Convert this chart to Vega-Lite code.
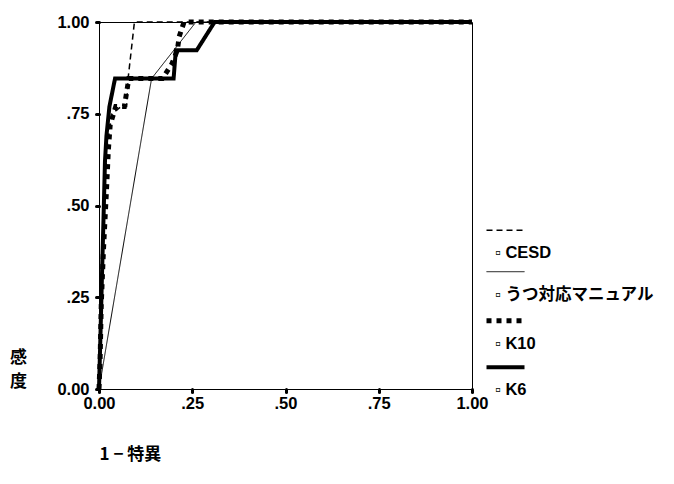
{
  "$schema": "https://vega.github.io/schema/vega-lite/v6.json",
  "autosize": {"type": "none"},
  "padding": {"left": 99, "top": 22, "right": 202, "bottom": 95},
  "width": 373,
  "height": 367,
  "background": "white",
  "data": {
    "values": [
      {"series": "CESD", "i": 0, "fpr": 0.0, "tpr": 0.0},
      {"series": "CESD", "i": 1, "fpr": 0.005, "tpr": 0.15},
      {"series": "CESD", "i": 2, "fpr": 0.01, "tpr": 0.38},
      {"series": "CESD", "i": 3, "fpr": 0.015, "tpr": 0.54},
      {"series": "CESD", "i": 4, "fpr": 0.02, "tpr": 0.65},
      {"series": "CESD", "i": 5, "fpr": 0.03, "tpr": 0.72},
      {"series": "CESD", "i": 6, "fpr": 0.035, "tpr": 0.75},
      {"series": "CESD", "i": 7, "fpr": 0.06, "tpr": 0.77},
      {"series": "CESD", "i": 8, "fpr": 0.074, "tpr": 0.77},
      {"series": "CESD", "i": 9, "fpr": 0.078, "tpr": 0.846},
      {"series": "CESD", "i": 10, "fpr": 0.095, "tpr": 1.0},
      {"series": "CESD", "i": 11, "fpr": 1.0, "tpr": 1.0},

      {"series": "うつ対応マニュアル", "i": 0, "fpr": 0.0, "tpr": 0.0},
      {"series": "うつ対応マニュアル", "i": 1, "fpr": 0.141, "tpr": 0.846},
      {"series": "うつ対応マニュアル", "i": 2, "fpr": 0.26, "tpr": 1.0},
      {"series": "うつ対応マニュアル", "i": 3, "fpr": 1.0, "tpr": 1.0},

      {"series": "K10", "i": 0, "fpr": 0.0, "tpr": 0.0},
      {"series": "K10", "i": 1, "fpr": 0.003, "tpr": 0.08},
      {"series": "K10", "i": 2, "fpr": 0.006, "tpr": 0.23},
      {"series": "K10", "i": 3, "fpr": 0.012, "tpr": 0.38},
      {"series": "K10", "i": 4, "fpr": 0.02, "tpr": 0.54},
      {"series": "K10", "i": 5, "fpr": 0.025, "tpr": 0.65},
      {"series": "K10", "i": 6, "fpr": 0.03, "tpr": 0.72},
      {"series": "K10", "i": 7, "fpr": 0.045, "tpr": 0.77},
      {"series": "K10", "i": 8, "fpr": 0.068, "tpr": 0.77},
      {"series": "K10", "i": 9, "fpr": 0.08, "tpr": 0.846},
      {"series": "K10", "i": 10, "fpr": 0.17, "tpr": 0.846},
      {"series": "K10", "i": 11, "fpr": 0.195, "tpr": 0.885},
      {"series": "K10", "i": 12, "fpr": 0.21, "tpr": 0.923},
      {"series": "K10", "i": 13, "fpr": 0.215, "tpr": 0.96},
      {"series": "K10", "i": 14, "fpr": 0.228, "tpr": 1.0},
      {"series": "K10", "i": 15, "fpr": 1.0, "tpr": 1.0},

      {"series": "K6", "i": 0, "fpr": 0.0, "tpr": 0.0},
      {"series": "K6", "i": 1, "fpr": 0.004, "tpr": 0.15},
      {"series": "K6", "i": 2, "fpr": 0.008, "tpr": 0.31},
      {"series": "K6", "i": 3, "fpr": 0.012, "tpr": 0.46},
      {"series": "K6", "i": 4, "fpr": 0.016, "tpr": 0.62},
      {"series": "K6", "i": 5, "fpr": 0.02, "tpr": 0.69},
      {"series": "K6", "i": 6, "fpr": 0.028, "tpr": 0.77},
      {"series": "K6", "i": 7, "fpr": 0.043, "tpr": 0.846},
      {"series": "K6", "i": 8, "fpr": 0.2, "tpr": 0.846},
      {"series": "K6", "i": 9, "fpr": 0.206, "tpr": 0.923},
      {"series": "K6", "i": 10, "fpr": 0.262, "tpr": 0.923},
      {"series": "K6", "i": 11, "fpr": 0.31, "tpr": 1.0},
      {"series": "K6", "i": 12, "fpr": 1.0, "tpr": 1.0}
    ]
  },
  "mark": {"type": "line", "stroke": "black", "strokeCap": "butt", "strokeJoin": "miter", "clip": false},
  "encoding": {
    "x": {
      "field": "fpr",
      "type": "quantitative",
      "scale": {"domain": [0, 1], "nice": false, "zero": false},
      "axis": {
        "title": "1 − 特異",
        "values": [0, 0.25, 0.5, 0.75, 1],
        "labelExpr": "datum.value == 0 || datum.value == 1 ? format(datum.value, '.2f') : replace(format(datum.value, '.2f'), '0.', '.')",
        "labelPadding": 3,
        "titleAnchor": "start",
        "titleAlign": "left",
        "titleX": 0,
        "titleY": 65,
        "titleBaseline": "middle"
      }
    },
    "y": {
      "field": "tpr",
      "type": "quantitative",
      "scale": {"domain": [0, 1], "nice": false, "zero": false},
      "axis": {
        "title": ["感", "度"],
        "values": [0, 0.25, 0.5, 0.75, 1],
        "labelExpr": "datum.value == 0 || datum.value == 1 ? format(datum.value, '.2f') : replace(format(datum.value, '.2f'), '0.', '.')",
        "labelPadding": 7,
        "titleAngle": 0,
        "titleAlign": "center",
        "titleBaseline": "middle",
        "titleX": -81,
        "titleY": 335,
        "titleLineHeight": 24
      }
    },
    "order": {"field": "i", "type": "quantitative"},
    "detail": {"field": "series"},
    "strokeDash": {
      "field": "series",
      "type": "nominal",
      "scale": {
        "domain": ["CESD", "うつ対応マニュアル", "K10", "K6"],
        "range": [[6, 4], [1, 0], [5, 5], [1, 0]]
      },
      "legend": {"title": null, "labelExpr": "'▫ ' + datum.label"}
    },
    "strokeWidth": {
      "field": "series",
      "type": "nominal",
      "scale": {
        "type": "ordinal",
        "domain": ["CESD", "うつ対応マニュアル", "K10", "K6"],
        "range": [1.5, 1, 5, 4]
      },
      "legend": {"title": null, "labelExpr": "'▫ ' + datum.label"}
    }
  },
  "config": {
    "font": "Liberation Sans, DejaVu Sans, Noto Sans CJK JP",
    "view": {"stroke": "black", "strokeWidth": 1},
    "axis": {
      "grid": false,
      "domainColor": "black",
      "domainWidth": 1,
      "tickColor": "black",
      "tickSize": 3,
      "tickWidth": 3,
      "tickCap": "round",
      "labelColor": "black",
      "labelFont": "Liberation Sans",
      "labelFontSize": 16.5,
      "labelFontWeight": "bold",
      "labelFlush": false,
      "titleColor": "black",
      "titleFont": "Noto Sans CJK JP",
      "titleFontSize": 17,
      "titleFontWeight": "bold"
    },
    "legend": {
      "orient": "none",
      "legendX": 385,
      "legendY": 211,
      "padding": 0,
      "symbolType": "M-1,-1.2H1",
      "symbolSize": 1444,
      "symbolStrokeColor": "black",
      "symbolFillColor": "transparent",
      "labelOffset": -32,
      "labelBaseline": "middle",
      "labelFont": "Liberation Sans, DejaVu Sans, Noto Sans CJK JP",
      "labelFontSize": 16.5,
      "labelFontWeight": "bold",
      "labelColor": "black",
      "labelLimit": 300,
      "rowPadding": 7
    }
  }
}
